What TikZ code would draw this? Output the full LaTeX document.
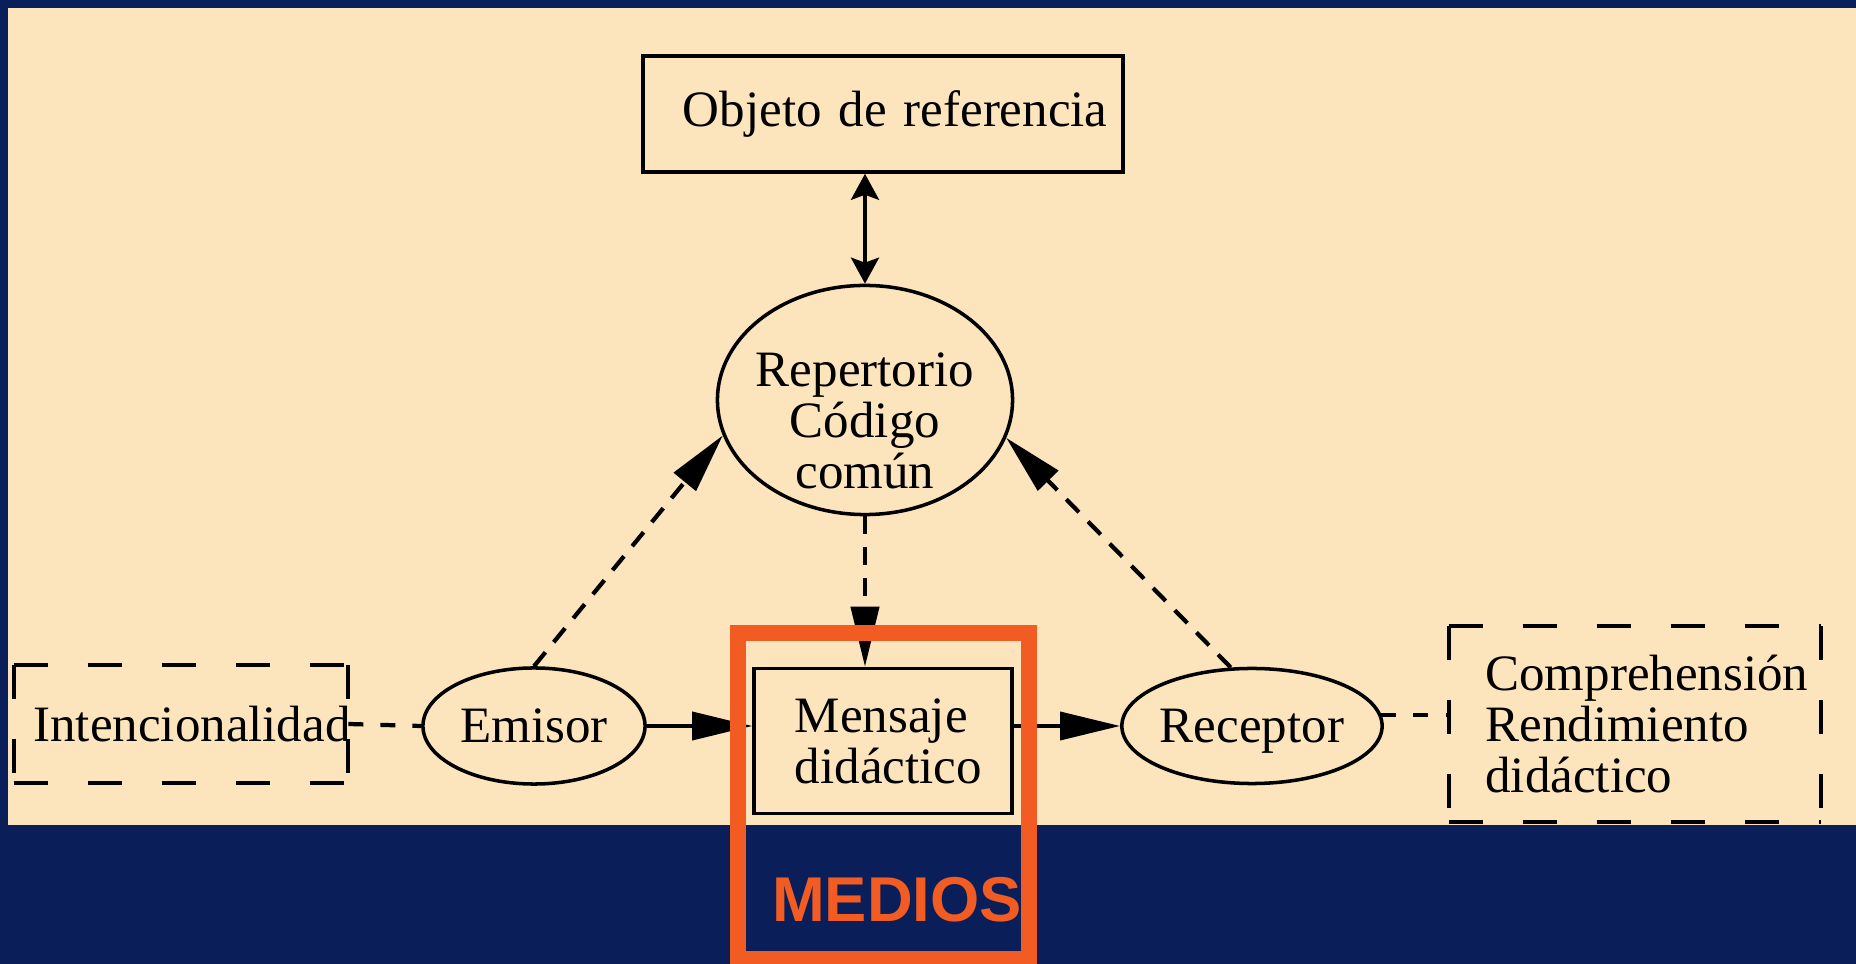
\documentclass[tikz,border=0pt]{standalone}
\usepackage{fontspec}
\setmainfont{Liberation Serif}
\newfontfamily\mediosfont{Liberation Sans}
\usetikzlibrary{shapes.geometric,arrows.meta,positioning}
\definecolor{fondo}{RGB}{10,30,90}
\definecolor{papel}{RGB}{252,228,188}
\definecolor{naranja}{RGB}{242,92,34}
\tikzset
{
    basenode/.style = {draw=black, line width=1pt, inner sep=0pt,
                          font=\fontsize{14.5}{14.5}\selectfont, anchor=center},
    ovalnode/.style = {basenode, ellipse, align=center},
    boxnode/.style = {basenode, rectangle, align=left},
    dashbox/.style = {boxnode, draw=none},
    dashside/.style = {line width=1.2pt, dash pattern=on 0.34cm off 0.40cm},
    flecha/.style = {line width=1.05pt, -{Triangle[length=0.6cm, width=0.28cm]}},
    dashflecha/.style = {flecha, line width=1.2pt, dash pattern=on 0.18cm off 0.13cm},
    dashlinea/.style = {line width=1.2pt, dash pattern=on 0.15cm off 0.17cm},
    doble/.style = {line width=1.05pt,
                    {Stealth[length=0.26cm, width=0.28cm, inset=0.05cm]}-{Stealth[length=0.26cm, width=0.28cm, inset=0.05cm]}}
}
% every side of a dashed box starts with a dash at its corner
\newcommand{\marcodash}[1]{%
    \draw[dashside] (#1.north west) -- (#1.north east)
                    (#1.north west) -- (#1.south west)
                    (#1.south west) -- (#1.south east)
                    (#1.north east) -- (#1.south east);}

\begin{document}
\begin{tikzpicture}[
        % one unit is one pixel of the slide, y grows downwards:
        x=0.01cm, y=-0.01cm
      ]
        \useasboundingbox (0,0) rectangle (1856,964);
        \fill[fondo] (0,0) rectangle (1856,964);
        \fill[papel] (8,8) rectangle (1856,825);

        % nodes
        \node[boxnode, inner xsep=0.40cm, text width=4.00cm, minimum height=1.16cm] (objeto) at (883,114)
            {\mbox{Objeto de referencia}};
        \node[ovalnode, minimum width=2.95cm, minimum height=2.29cm] (repertorio) at (865,400) {};
        \node[align=center, inner sep=0pt, font=\fontsize{14.5}{14.5}\selectfont] (reptexto) at (865,421)
            {Repertorio\\Código\\común};
        \node[ovalnode, minimum width=2.22cm, minimum height=1.16cm] (emisor) at (534,726) {Emisor};
        \node[ovalnode, text depth=0pt, minimum width=2.60cm, minimum height=1.15cm] (receptor) at (1252,726)
            {Receptor};
        \node[boxnode, inner xsep=0.41cm, text width=1.76cm, minimum height=1.45cm] (mensaje) at (883,741)
            {Mensaje\\didáctico};
        \node[dashbox, inner xsep=0.18cm, text width=2.95cm, minimum height=1.15cm] (intencion) at (181,724)
            {Intencionalidad};
        \node[dashbox, inner xsep=0.35cm, text width=2.99cm, minimum height=1.92cm] (comprension) at (1635,724)
            {Comprehensión\\Rendimiento\\didáctico};
        \marcodash{intencion}
        \marcodash{comprension}

        % connectors
        \draw[doble] (objeto.south -| repertorio.north) -- (repertorio.north);
        \draw[dashflecha] (emisor.north) -- (repertorio.194);
        \draw[dashflecha] (receptor.110) -- (repertorio.345);
        \draw[dashflecha] (repertorio.south) -- (mensaje.north -| repertorio.south);
        \draw[flecha] (emisor.east) -- (emisor.east -| mensaje.west);
        \draw[flecha] (mensaje.east |- receptor.west) -- (receptor.west);
        \draw[dashlinea] (intencion.east) -- (emisor.west);
        \draw[dashlinea] (receptor.5) -- (receptor.5 -| comprension.west);

        % MEDIOS frame
        \node[draw=naranja, line width=0.16cm, minimum width=2.91cm, minimum height=3.26cm,
              inner sep=0pt] (medios) at (883.5,796) {};
        \node[text=naranja, font=\mediosfont\bfseries\fontsize{18}{18}\selectfont] (mediostxt)
            at (897,900) {MEDIOS};
    \end{tikzpicture}
\end{document}
